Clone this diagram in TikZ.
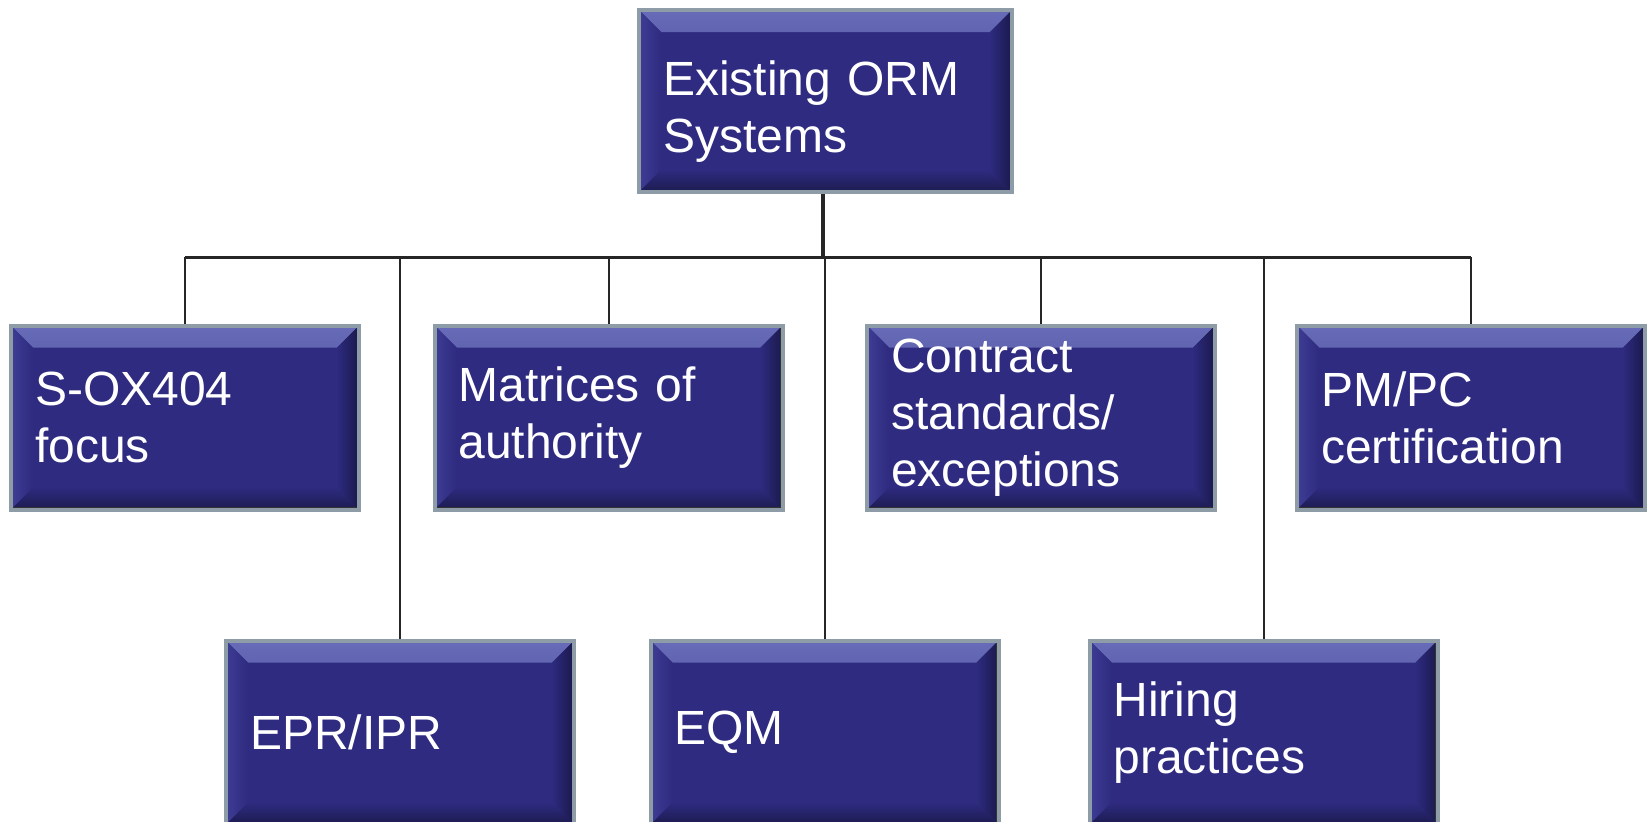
\documentclass[tikz,border=0pt]{standalone}
\usepackage{fontspec}
\setmainfont{Liberation Sans}
\usepackage{tikz}
\definecolor{boxfill}{RGB}{46,43,128}
\definecolor{boxframe}{RGB}{142,156,168}
\definecolor{bevtop}{RGB}{104,108,184}
\definecolor{bevleft}{RGB}{62,61,148}
\definecolor{bevright}{RGB}{26,25,74}
\definecolor{bevbot}{RGB}{28,27,78}
\tikzset{
  orgbox/.style = {rectangle, draw=boxframe, line width=4pt, fill=boxfill,
    text=white, align=left, inner xsep=24pt, inner ysep=0pt,
    font=\fontsize{48}{57}\selectfont,
    minimum height=184pt, text width=300pt,
    path picture={
      \shade[top color=bevtop, bottom color=boxfill]
        (path picture bounding box.north west) -- (path picture bounding box.north east)
        -- ([xshift=-22pt,yshift=-22pt]path picture bounding box.north east)
        -- ([xshift=22pt,yshift=-22pt]path picture bounding box.north west) -- cycle;
      \shade[left color=bevleft, right color=boxfill]
        (path picture bounding box.north west) -- (path picture bounding box.south west)
        -- ([xshift=22pt,yshift=22pt]path picture bounding box.south west)
        -- ([xshift=22pt,yshift=-22pt]path picture bounding box.north west) -- cycle;
      \shade[left color=boxfill, right color=bevright]
        (path picture bounding box.north east) -- (path picture bounding box.south east)
        -- ([xshift=-22pt,yshift=22pt]path picture bounding box.south east)
        -- ([xshift=-22pt,yshift=-22pt]path picture bounding box.north east) -- cycle;
      \shade[top color=boxfill, bottom color=bevbot]
        (path picture bounding box.south west) -- (path picture bounding box.south east)
        -- ([xshift=-22pt,yshift=22pt]path picture bounding box.south east)
        -- ([xshift=22pt,yshift=22pt]path picture bounding box.south west) -- cycle;
      \draw[black!80, line width=5pt] (path picture bounding box.north east) -- (path picture bounding box.south east)
        -- (path picture bounding box.south west);
    }},
  link/.style = {draw=black!85, line width=2pt},
}

\begin{document}
\begin{tikzpicture}[x=1pt,y=-1pt]
  \useasboundingbox (0,0) rectangle (1647,822);
  % root
  \node[orgbox, text width=325pt, minimum height=182pt, text depth=45pt] (root) at (825.5,101) {Existing ORM\\Systems};
  % second row
  \node[orgbox] (sox)  at (185,417.5)  {S-OX404\\focus};
  \node[orgbox] (mat)  at (608.5,417.5) {Matrices of\\authority};
  \node[orgbox] (con)  at (1041,417.5) {Contract\\standards/\\exceptions};
  \node[orgbox] (pmpc) at (1471,417.5) {PM/PC\\certification};
  % third row
  \node[orgbox] (epr) at (400,732.5)  {EPR/IPR};
  \node[orgbox] (eqm) at (824.5,732.5) {EQM};
  \node[orgbox] (hir) at (1263.5,732.5) {Hiring\\practices};
  % connectors
  \coordinate (bus) at (823,257);
  \draw[link, line width=4pt] (root.south -| bus) -- (bus);
  \draw[link, line width=3pt] (bus -| sox.north) -- (bus -| pmpc.north);
  \foreach \n in {sox,mat,con,pmpc,epr,eqm,hir}
    \draw[link] (bus -| \n.north) -- (\n.north);
\end{tikzpicture}
\end{document}
